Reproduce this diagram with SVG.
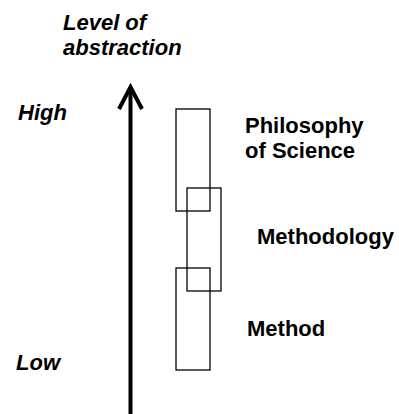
<svg xmlns="http://www.w3.org/2000/svg" width="399" height="414" viewBox="0 0 399 414">
<style>
.t{font-family:"Liberation Sans",Arial,sans-serif;font-weight:bold;font-size:22px;fill:#000}
.i{font-style:italic}
.box{fill:none;stroke:#000;stroke-width:1.3}
.ax{fill:none;stroke:#000;stroke-width:4}
</style>
<rect width="399" height="414" fill="#fff"/>
<g id="axis-label">
<text class="t i" x="63" y="30">Level of</text>
<text class="t i" x="63" y="55">abstraction</text>
</g>
<g id="high"><text class="t i" x="18" y="120">High</text></g>
<g id="low"><text class="t i" x="16" y="370">Low</text></g>
<g id="connectors">
<line class="ax" x1="130.5" y1="88" x2="130.5" y2="414"/>
<polyline class="ax" points="119,109 130.5,87 142,109" stroke-linejoin="miter"/>
</g>
<g id="philosophy">
<rect class="box" x="176" y="109" width="34" height="102"/>
<text class="t" x="245" y="133">Philosophy</text>
<text class="t" x="245" y="158">of Science</text>
</g>
<g id="methodology">
<rect class="box" x="187" y="188" width="34" height="103"/>
<text class="t" x="257" y="244">Methodology</text>
</g>
<g id="method">
<rect class="box" x="176" y="268" width="34" height="102"/>
<text class="t" x="247" y="336">Method</text>
</g>
</svg>
